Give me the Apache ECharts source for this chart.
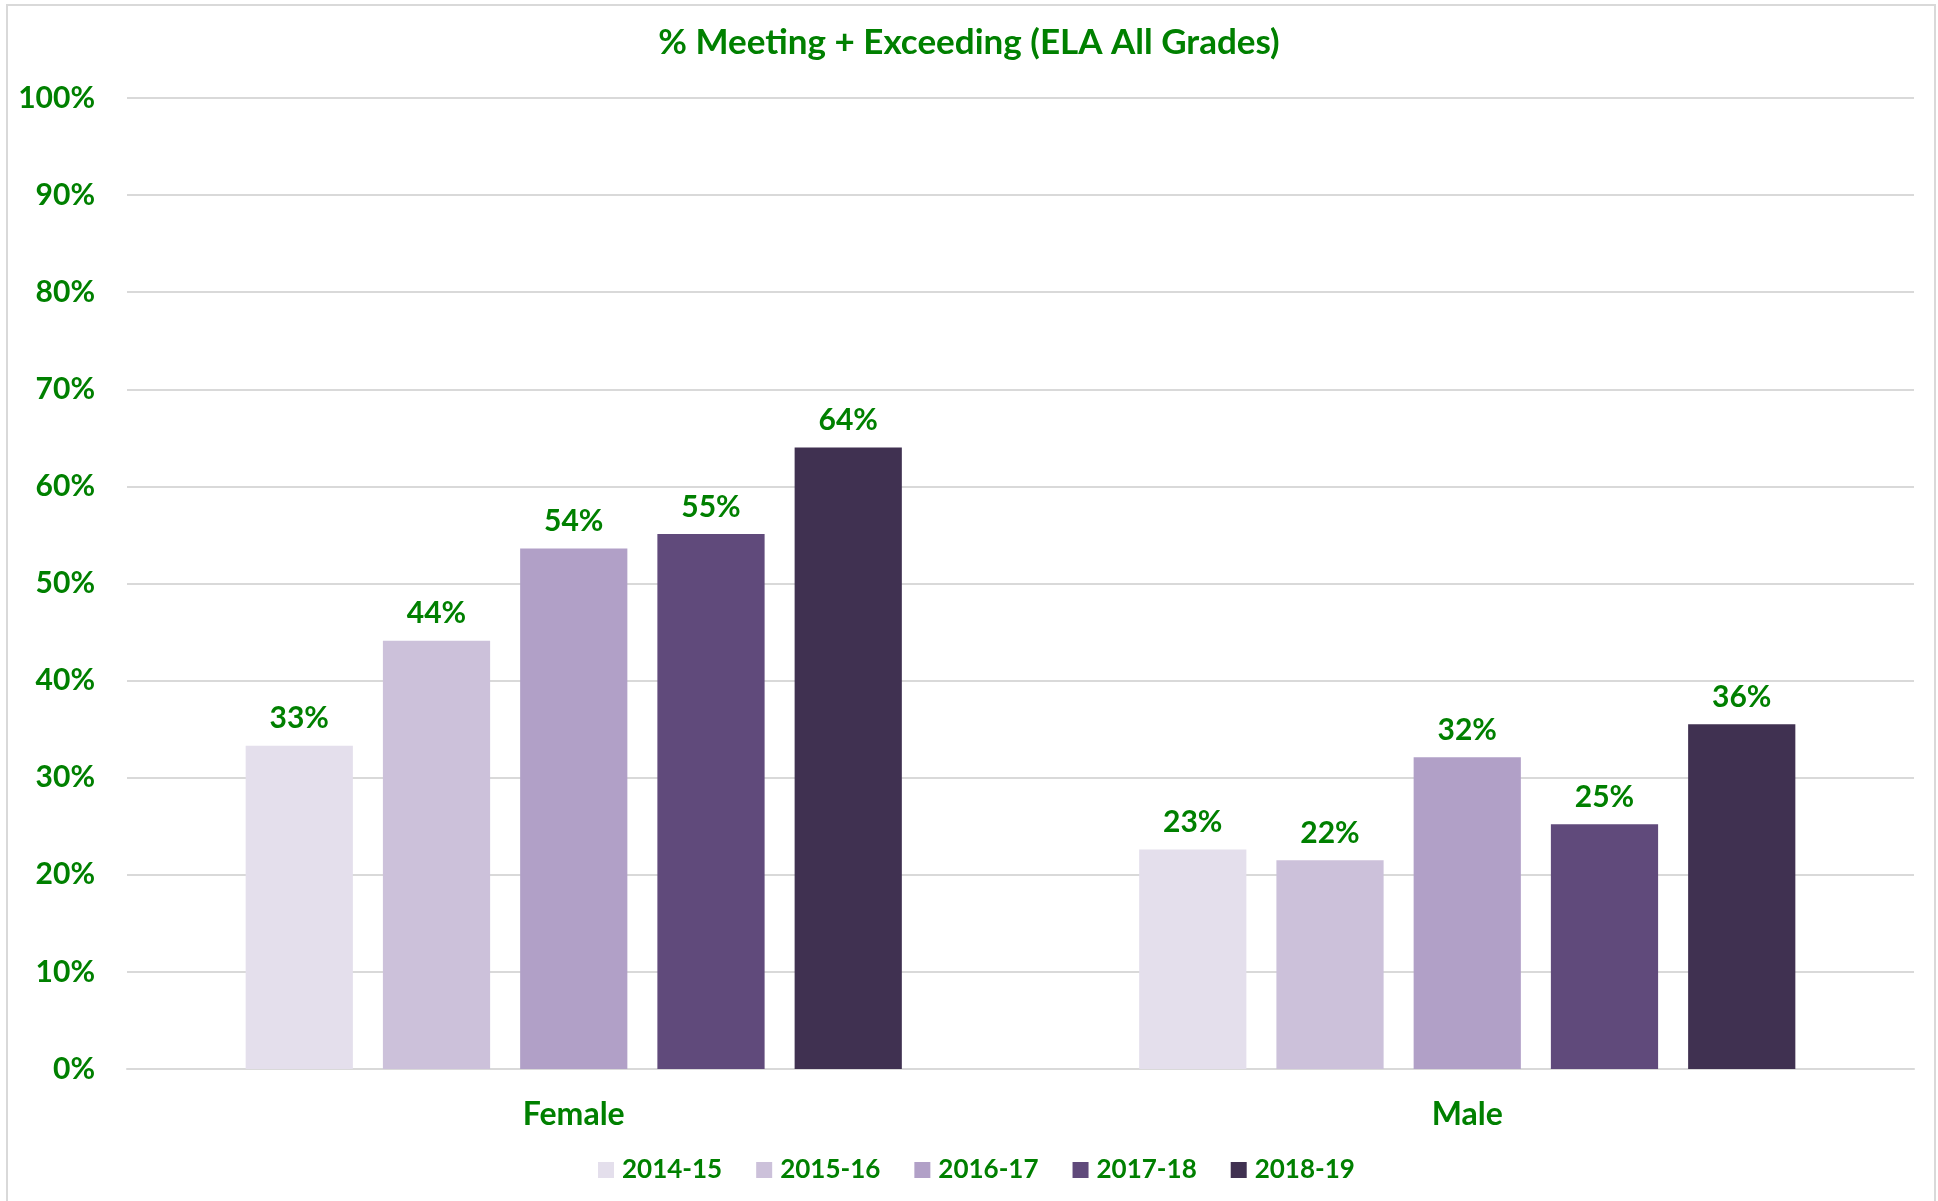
<!DOCTYPE html>
<html>
<head>
<meta charset="utf-8">
<script src="https://cdn.jsdelivr.net/npm/echarts@6/dist/echarts.min.js"></script>
<style>
    html, body { margin: 0; padding: 0; background: #ffffff; }
    #chart { position: absolute; left: 0; top: 0; width: 1938px; height: 1201px; }
    #frame { position: absolute; left: 6px; top: 4px; width: 1926px; height: 1210px; border: 2px solid #d9d9d9; pointer-events: none; }
</style>
</head>
<body>
<div id="chart"></div>
<div id="frame"></div>
<script>
// 图表数据
const categories = ["Female", "Male"];
const years = ["2014-15", "2015-16", "2016-17", "2017-18", "2018-19"];
const yearColors = ["#E4DFEC", "#CCC1DA", "#B1A0C7", "#604A7B", "#403151"];
const values2014 = [33.3, 22.6];
const values2015 = [44.1, 21.5];
const values2016 = [53.6, 32.1];
const values2017 = [55.1, 25.2];
const values2018 = [64.0, 35.5];
const yearValues = [values2014, values2015, values2016, values2017, values2018];

const green = "#008000";
const font = "Lato, 'Open Sans', sans-serif";

const chart = echarts.init(document.getElementById("chart"));
chart.setOption({
    animation: false,
    title: {
        text: "% Meeting + Exceeding (ELA All Grades)",
        left: "center",
        top: 25,
        padding: 0,
        textStyle: { color: green, fontFamily: font, fontWeight: "bold", fontSize: 35 }
    },
    legend: {
        data: years,
        bottom: 13,
        left: 593,
        itemWidth: 16,
        itemHeight: 16,
        itemGap: 34,
        icon: "rect",
        textStyle: { color: green, fontFamily: font, fontWeight: "bold", fontSize: 26, padding: [0, 0, 0, 3] }
    },
    grid: { left: 127, right: 24, top: 98, bottom: 132, containLabel: false },
    xAxis: {
        type: "category",
        data: categories,
        axisLine: { lineStyle: { color: "#d9d9d9", width: 2 } },
        axisTick: { show: false },
        axisLabel: { color: green, fontFamily: font, fontWeight: "bold", fontSize: 32, margin: 30 }
    },
    yAxis: {
        type: "value",
        min: 0,
        max: 100,
        interval: 10,
        axisLine: { show: false },
        axisTick: { show: false },
        splitLine: { lineStyle: { color: "#d9d9d9", width: 2 } },
        axisLabel: { color: green, fontFamily: font, fontWeight: "bold", fontSize: 30, margin: 32, formatter: "{value}%" }
    },
    series: years.map((year, i) => ({
        name: year,
        type: "bar",
        data: yearValues[i],
        barWidth: "12%",
        barGap: "28%",
        itemStyle: { color: yearColors[i] },
        label: {
            show: true,
            position: "top",
            distance: 12,
            color: green,
            fontFamily: font,
            fontWeight: "bold",
            fontSize: 30,
            formatter: (p) => Math.round(p.value) + "%"
        }
    }))
});
</script>
</body>
</html>
